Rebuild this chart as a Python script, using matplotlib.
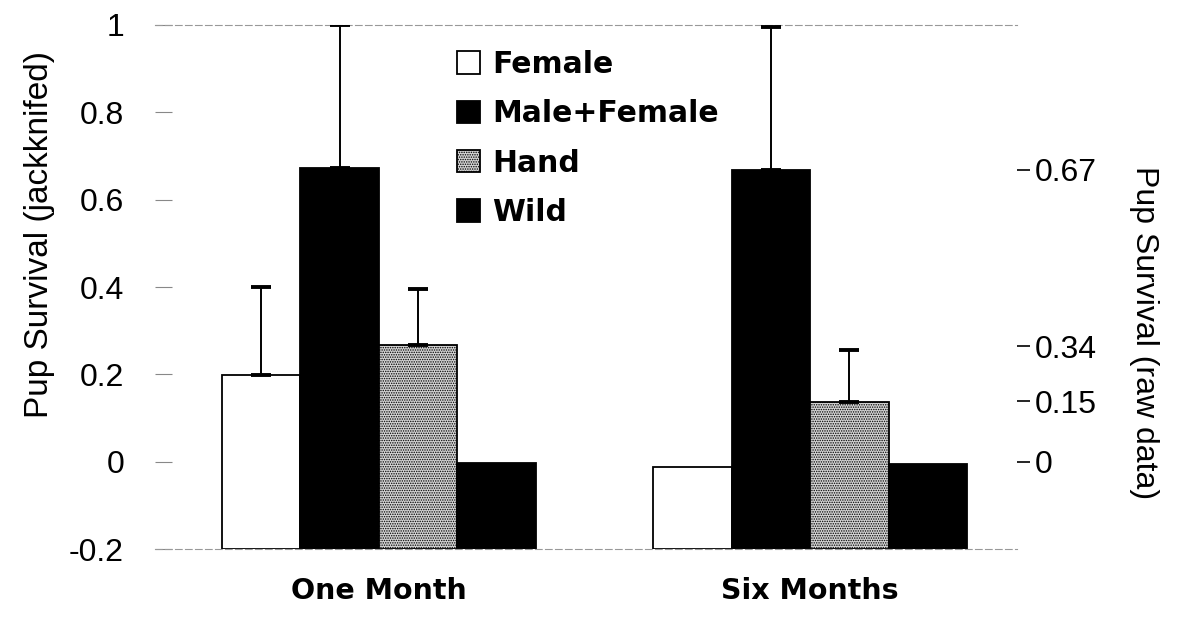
import numpy as np
import matplotlib
matplotlib.use('Agg')
from matplotlib import pyplot as plt

plt.rcParams['font.family'] = ['Liberation Sans', 'DejaVu Sans']
plt.rcParams['hatch.color'] = '#333333'
plt.rcParams['hatch.linewidth'] = 0.7

# data
periods = ['One Month', 'Six Months']
groups = ['Female', 'Male+Female', 'Hand', 'Wild']
female = [0.198, -0.011]
male_female = [0.673, 0.669]
hand = [0.267, 0.136]
wild = [-0.003, -0.005]
female_err = [0.202, 0.0]
male_female_err = [0.327, 0.326]
hand_err = [0.128, 0.119]
wild_err = [0.0, 0.0]

right_ticks = [0.669, 0.265, 0.138, 0.0]
right_labels = ['0.67', '0.34', '0.15', '0']

series = [female, male_female, hand, wild]
errors = [female_err, male_female_err, hand_err, wild_err]
faces = ['white', 'black', '#d4d4d4', 'black']
hatches = [None, None, '.......', None]

fig = plt.figure(figsize=(11.8, 6.24), dpi=100)
ax = fig.add_axes([0.131, 0.12, 0.731, 0.84])

x = np.arange(len(periods))
width = 0.182
base = -0.2
for i, (vals, errs) in enumerate(zip(series, errors)):
    pos = x + (i - 1.5) * width
    heights = np.array(vals) - base
    ax.bar(pos, heights, width, bottom=base, color=faces[i], edgecolor='black',
           linewidth=1.3, hatch=hatches[i], label=groups[i], zorder=2)
    errs = np.array(errs)
    mask = errs > 0
    ax.errorbar(pos[mask], np.array(vals)[mask], yerr=[np.zeros(mask.sum()), errs[mask]],
                fmt='none', ecolor='black', elinewidth=1.4, capsize=7, capthick=2.8, zorder=3)

ax.set_ylim(-0.2, 1.0)
ax.set_xlim(-0.52, 1.48)
ax.set_yticks([-0.2, 0, 0.2, 0.4, 0.6, 0.8, 1.0])
ax.set_yticklabels(['-0.2', '0', '0.2', '0.4', '0.6', '0.8', '1'])
ax.set_xticks(x)
ax.set_xticklabels(periods, fontsize=20.5, family='DejaVu Sans', fontweight='bold')
ax.tick_params(axis='x', length=0, pad=20)
ax.tick_params(axis='y', labelsize=23, direction='in', length=12, width=0.8,
               color='#888888', pad=22)
ax.set_ylabel('Pup Survival (jackknifed)', fontsize=24)
ax.yaxis.set_label_coords(-0.115, 0.6)

for side in ['left', 'right']:
    ax.spines[side].set_visible(False)
for side in ['top', 'bottom']:
    ax.spines[side].set_color('#999999')
    ax.spines[side].set_linestyle((0, (6, 3)))
    ax.spines[side].set_linewidth(0.8)

ax2 = ax.twinx()
ax2.set_ylim(ax.get_ylim())
ax2.set_yticks(right_ticks)
ax2.set_yticklabels(right_labels)
ax2.tick_params(axis='y', labelsize=23, direction='out', length=9, width=1.2, pad=4)
for side in ['left', 'right', 'top', 'bottom']:
    ax2.spines[side].set_visible(False)
ax2.set_ylabel('Pup Survival (raw data)', fontsize=23, rotation=270)
ax2.yaxis.set_label_coords(1.165, 0.414)

leg = ax.legend(loc='upper left', bbox_to_anchor=(457 / 1180, 1 - 50 / 624),
                bbox_transform=fig.transFigure, frameon=False,
                prop={'family': 'DejaVu Sans', 'weight': 'bold', 'size': 21.5},
                handlelength=0.77, handleheight=0.77, handletextpad=0.42,
                labelspacing=0.68, borderpad=0, borderaxespad=0)

fig.savefig('out.png', dpi=100)
